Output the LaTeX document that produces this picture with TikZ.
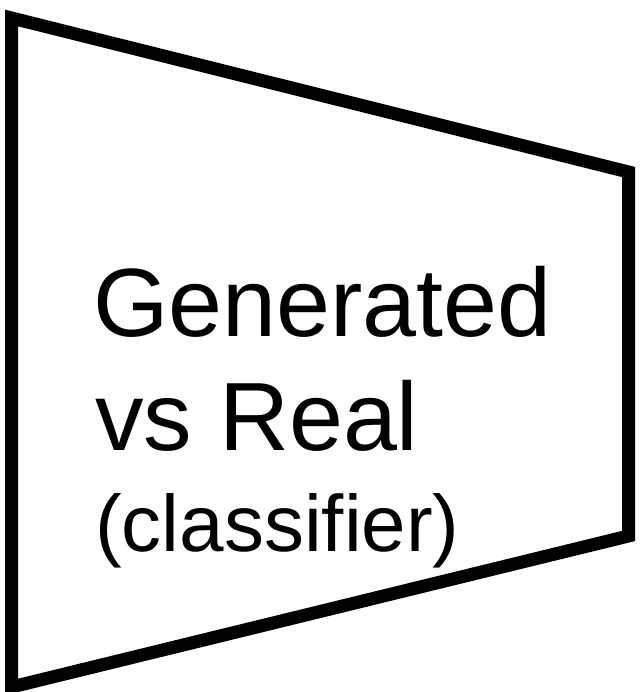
\documentclass[tikz,border=0pt]{standalone}
\usepackage{fontspec}
\setmainfont{Liberation Sans}
\usetikzlibrary{positioning}
\tikzset{
  label/.style={anchor=base west,inner sep=0pt,text=black},
}
\begin{document}
\begin{tikzpicture}[x=1pt,y=-1pt]
  \useasboundingbox (0,0) rectangle (641,692);
  % Classifier block
  \draw[line width=13pt,miter limit=10] (11.5,18) -- (628.5,172) -- (628.5,536) -- (11.5,687) -- cycle;

  % Labels
  \node[label,font=\fontsize{97}{97}\selectfont] (gen) at (93,336) {Generated};
  \node[label,font=\fontsize{97}{97}\selectfont] (real) at (95,450) {vs Real};
  \node[label,font=\fontsize{80}{80}\selectfont] (cls) at (95,551) {(classifier)};
\end{tikzpicture}
\end{document}
